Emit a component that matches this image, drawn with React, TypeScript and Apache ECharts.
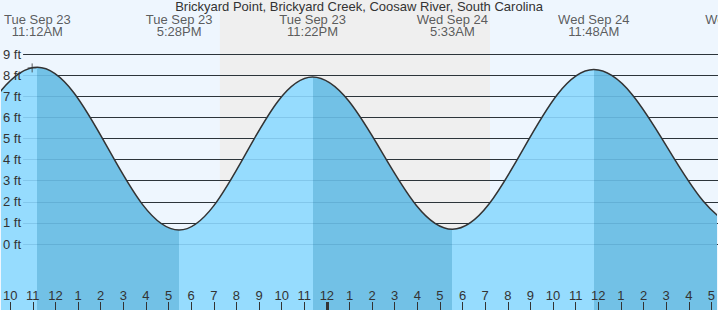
import React, { useEffect, useRef } from 'react';
import * as echarts from 'echarts';

const TITLE = 'Brickyard Point, Brickyard Creek, Coosaw River, South Carolina';

// Tide extremes: hours counted from Tue Sep 23 00:00, heights in ft
const EXTREME_HOURS = [-1.5, 4.7, 11.2, 17.467, 23.367, 29.55, 35.8, 42.3, 48.6];
const EXTREME_FEET = [8.0, 0.7, 8.37, 0.66, 7.91, 0.7, 8.26, 0.9, 7.9];

// Labels over the extremes
const LABEL_HOURS = [11.2, 17.467, 23.367, 29.55, 35.8, 42.3];
const LABEL_DATES = ['Tue Sep 23', 'Tue Sep 23', 'Tue Sep 23', 'Wed Sep 24', 'Wed Sep 24', 'Wed Sep 24'];
const LABEL_TIMES = ['11:12AM', '5:28PM', '11:22PM', '5:33AM', '11:48AM', '6:18PM'];

// Hour ticks along the bottom
const FIRST_HOUR = 10;
const HOUR_LABELS = [
  '10', '11', '12', '1', '2', '3', '4', '5', '6', '7', '8', '9', '10', '11',
  '12', '1', '2', '3', '4', '5', '6', '7', '8', '9', '10', '11', '12', '1', '2', '3', '4', '5',
];
const MIDNIGHT_HOURS = [24];

// Night (sunset -> sunrise), in hours
const NIGHT_HOURS = [19.27, 31.21];
// current time marker
const NOW_POINT = [10.97, 8.34];

const X_MIN = 9.6487;
const X_MAX = 41.181;
const Y_MIN = -3.1265;
const Y_MAX = 11.558;
const LABEL_Y = 10.35;

const DAY_BG = '#EEF6FE';
const NIGHT_BG = '#EFEFEF';
const WATER_LIGHT = '#96DCFE';
const WATER_DARK = '#72C1E6';
const INK = '#333333';
const FONT = '"Liberation Sans", Arial, Helvetica, sans-serif';

export default function App() {
  const ref = useRef<HTMLDivElement>(null);

  useEffect(() => {
    document.body.style.margin = '0';
    const chart = echarts.init(ref.current as HTMLDivElement, null, { renderer: 'svg' });

    const pieces: any[] = [];
    for (let i = 0; i < EXTREME_HOURS.length - 1; i++) {
      pieces.push({
        gte: EXTREME_HOURS[i],
        lt: EXTREME_HOURS[i + 1],
        color: EXTREME_FEET[i] > EXTREME_FEET[i + 1] ? WATER_DARK : WATER_LIGHT,
      });
    }
    const hourTicks = HOUR_LABELS.map((_, i) => FIRST_HOUR + i);

    chart.setOption({
      animation: false,
      backgroundColor: DAY_BG,
      textStyle: { fontFamily: FONT },
      title: {
        text: TITLE,
        left: 'center',
        top: 0,
        padding: 0,
        textStyle: { fontSize: 13, fontWeight: 'normal', color: INK, lineHeight: 13, fontFamily: FONT },
      },
      grid: [
        { left: 0, right: 0, top: 0, bottom: 0 },
        { left: 22, right: 0, top: 54, bottom: 66 },
      ],
      xAxis: [
        {
          gridIndex: 0,
          type: 'value',
          min: X_MIN,
          max: X_MAX,
          position: 'bottom',
          z: 6,
          axisLine: { show: false, onZero: false },
          splitLine: { show: false },
          axisTick: {
            show: true,
            inside: true,
            length: 8,
            customValues: hourTicks,
            lineStyle: { color: INK, width: 1 },
          },
          axisLabel: {
            show: true,
            inside: true,
            margin: 8,
            customValues: hourTicks,
            formatter: (v: number) => HOUR_LABELS[Math.round(v) - FIRST_HOUR] ?? '',
            color: INK,
            fontSize: 13,
            fontFamily: FONT,
          },
        },
        {
          gridIndex: 0,
          type: 'value',
          min: X_MIN,
          max: X_MAX,
          position: 'bottom',
          z: 6,
          axisLine: { show: false, onZero: false },
          splitLine: { show: false },
          axisLabel: { show: false },
          axisTick: {
            show: true,
            inside: true,
            length: 8,
            customValues: MIDNIGHT_HOURS,
            lineStyle: { color: INK, width: 3 },
          },
        },
        { gridIndex: 1, type: 'value', min: 0, max: 1, show: false },
      ],
      yAxis: [
        { gridIndex: 0, type: 'value', min: Y_MIN, max: Y_MAX, show: false },
        {
          gridIndex: 1,
          type: 'value',
          min: 0,
          max: 9,
          interval: 1,
          position: 'left',
          z: 2,
          axisLine: { show: false },
          axisTick: { show: false },
          axisLabel: { show: false },
          splitLine: { show: true, lineStyle: { color: INK, width: 1 } },
        },
        {
          gridIndex: 1,
          type: 'value',
          min: 0,
          max: 9,
          interval: 1,
          position: 'left',
          z: 4,
          axisLine: { show: false },
          axisTick: { show: false },
          axisLabel: { formatter: '{value} ft', margin: 2, color: INK, fontSize: 13, fontFamily: FONT },
          splitLine: { show: true, lineStyle: { color: 'rgba(0,60,110,0.13)', width: 1 } },
        },
      ],
      visualMap: {
        type: 'piecewise',
        show: false,
        dimension: 0,
        seriesIndex: 0,
        pieces,
      },
      series: [
        {
          type: 'line',
          xAxisIndex: 0,
          yAxisIndex: 0,
          data: EXTREME_HOURS.map((h, i) => [h, EXTREME_FEET[i]]),
          smooth: 0.36,
          smoothMonotone: 'x',
          symbol: 'none',
          showSymbol: false,
          z: 3,
          lineStyle: { color: INK, width: 1.5 },
          areaStyle: { opacity: 1, origin: 'start' },
          markArea: {
            silent: true,
            itemStyle: { color: NIGHT_BG },
            data: [[{ xAxis: NIGHT_HOURS[0] }, { xAxis: NIGHT_HOURS[1] }]],
          },
        },
        {
          type: 'scatter',
          xAxisIndex: 0,
          yAxisIndex: 0,
          silent: true,
          clip: false,
          z: 5,
          symbolSize: 1,
          itemStyle: { color: 'rgba(0,0,0,0)' },
          data: LABEL_HOURS.map((h) => [h, LABEL_Y]),
          label: {
            show: true,
            position: 'inside',
            formatter: (p: any) => LABEL_DATES[p.dataIndex] + '\n' + LABEL_TIMES[p.dataIndex],
            color: INK,
            fontSize: 13,
            lineHeight: 12,
            fontFamily: FONT,
            align: 'center',
          },
        },
        {
          type: 'scatter',
          xAxisIndex: 0,
          yAxisIndex: 0,
          silent: true,
          z: 6,
          symbol: 'path://M5,0L5,10M0,5L10,5',
          symbolSize: 9,
          itemStyle: { color: 'none', borderColor: INK, borderWidth: 1 },
          data: [NOW_POINT],
        },
      ],
    });

    return () => chart.dispose();
  }, []);

  return <div ref={ref} style={{ width: 718, height: 310 }} />;
}
